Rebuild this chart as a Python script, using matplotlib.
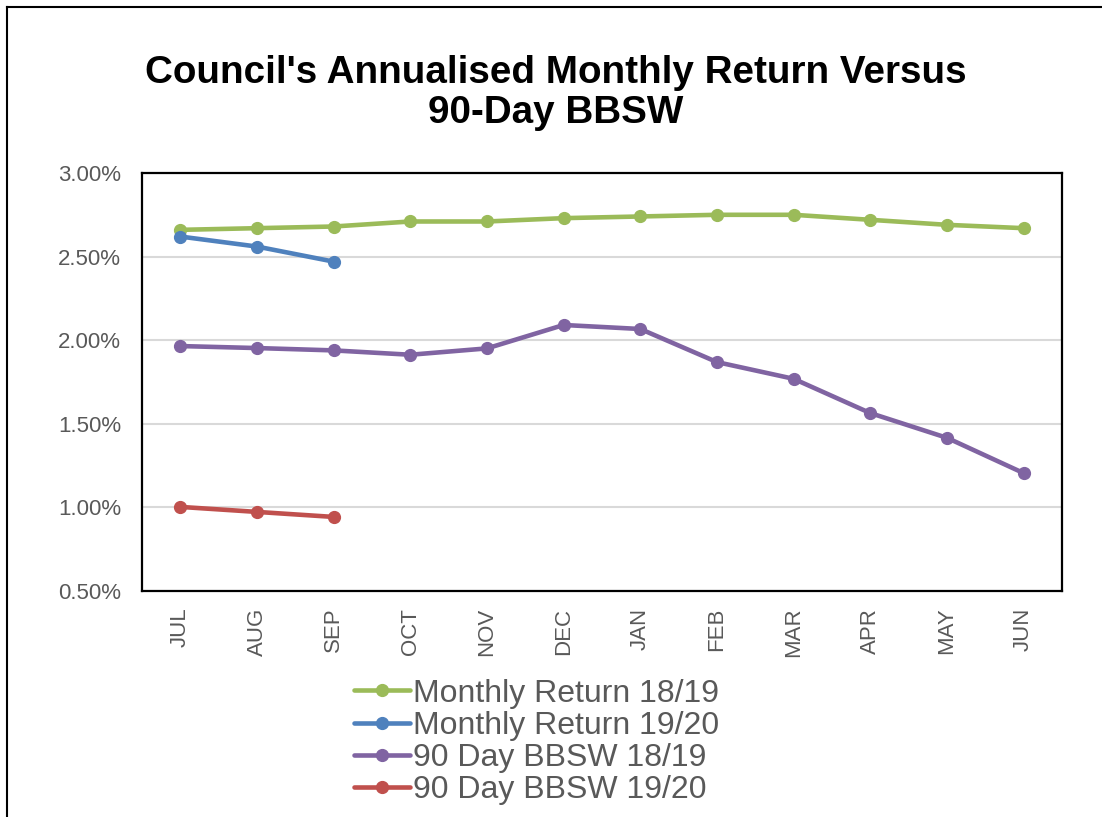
import numpy as np
import matplotlib.pyplot as plt
from matplotlib.lines import Line2D
from matplotlib.ticker import FuncFormatter
import matplotlib
matplotlib.rcParams['font.family'] = ['Liberation Sans', 'DejaVu Sans']

months = ["JUL", "AUG", "SEP", "OCT", "NOV", "DEC", "JAN", "FEB", "MAR", "APR", "MAY", "JUN"]
ret_1819 = [2.66, 2.67, 2.68, 2.71, 2.71, 2.73, 2.74, 2.75, 2.75, 2.72, 2.69, 2.67]
ret_1920 = [2.62, 2.56, 2.47]
bbsw_1819 = [1.965, 1.953, 1.939, 1.913, 1.951, 2.091, 2.067, 1.869, 1.769, 1.564, 1.416, 1.205]
bbsw_1920 = [1.003, 0.973, 0.943]

series = [
    ("Monthly Return 18/19", ret_1819, "#9BBB59"),
    ("Monthly Return 19/20", ret_1920, "#4F81BD"),
    ("90 Day BBSW 18/19", bbsw_1819, "#8064A2"),
    ("90 Day BBSW 19/20", bbsw_1920, "#C0504D"),
]

W, H = 1102, 817
fig = plt.figure(figsize=(W / 100, H / 100), dpi=100)
ax = fig.add_axes([142 / W, 1 - 591 / H, 920 / W, 418 / H])

x = np.arange(len(months))
for name, vals, col in series:
    ax.plot(x[:len(vals)], vals, color=col, lw=3.3, marker='o', ms=8.5,
            label=name, solid_capstyle='round', zorder=3)

ax.set_xlim(-0.5, len(months) - 0.5)
ax.set_ylim(0.5, 3.0)
ax.set_yticks(np.arange(0.5, 3.01, 0.5))
ax.yaxis.set_major_formatter(FuncFormatter(lambda v, p: f"{v:.2f}%"))
ax.set_xticks(x)
ax.set_xticklabels(months, rotation=90)
ax.tick_params(axis='y', length=0, pad=15, labelsize=16, labelcolor='#595959')
ax.tick_params(axis='x', length=0, pad=12, labelsize=16, labelcolor='#595959')
ax.grid(axis='y', color='#D9D9D9', lw=1.5, zorder=0)
for s in ax.spines.values():
    s.set_linewidth(1.6)
    s.set_color('black')

fig.text(556 / W, 1 - 93 / H, "Council's Annualised Monthly Return Versus\n90-Day BBSW",
         ha='center', va='center', fontsize=27.8, fontweight='bold', linespacing=1.15)

leg = fig.legend(loc='center', bbox_to_anchor=(537 / W, 1 - 742 / H), frameon=False,
                 fontsize=23, labelspacing=0.07, handlelength=1.75, handletextpad=0.1,
                 borderpad=0)
for t in leg.get_texts():
    t.set_color('#595959')

# outer chart border (top and left edges visible)
fig.add_artist(Line2D([7 / W, 1], [1 - 7 / H, 1 - 7 / H], color='black', lw=1.5))
fig.add_artist(Line2D([7 / W, 7 / W], [1 - 7 / H, 0], color='black', lw=1.5))

fig.savefig("out.png", dpi=100)
